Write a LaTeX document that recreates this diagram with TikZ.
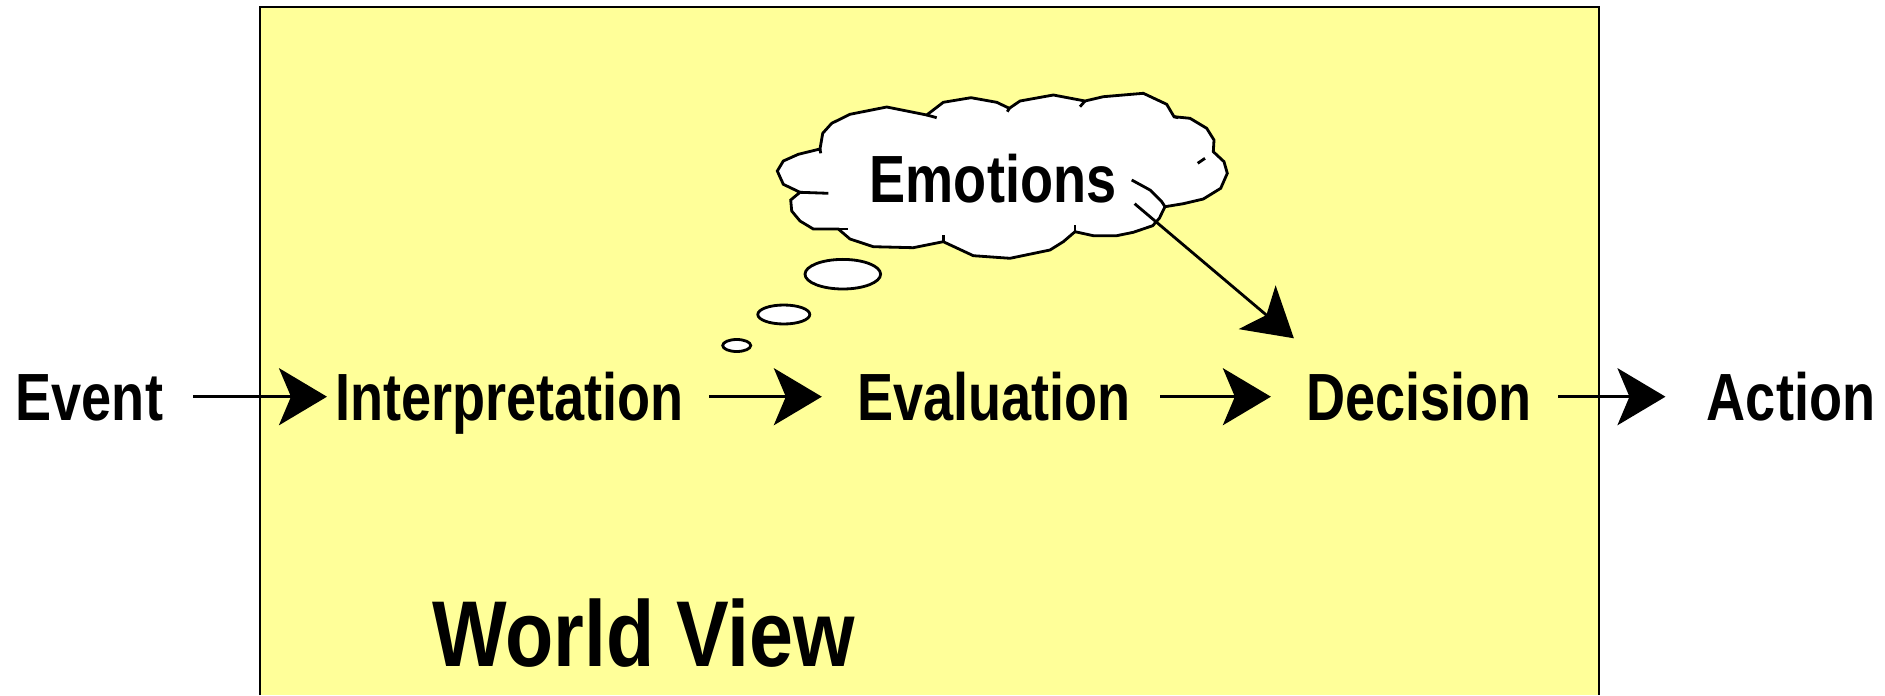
\documentclass[tikz,border=0pt]{standalone}
\usepackage{fontspec}
\usepackage{tikz}
\usetikzlibrary{arrows.meta}
\newfontfamily\labelfont{Liberation Sans}[FakeStretch=0.81]
\newfontfamily\titlefont{Liberation Sans}[FakeStretch=0.845]
\definecolor{worldyellow}{RGB}{255,255,153}
\newcommand{\drawbubble}[4]{   % x, y, radiusx, radiusy
	\draw[fill=white] (#1, #2) ellipse ({#3} and {#4});
}
\newcommand{\drawtick}[4]{   % x1, y1, x2, y2
	\draw (#1, #2) -- (#3, #4);
}
\tikzset{
	word/.style={font=\labelfont\bfseries\fontsize{19}{23}\selectfont, inner sep=0pt, text height=0.48cm, text depth=0pt, anchor=base},
	flow/.style={-{Stealth[length=0.48cm, width=0.57cm, inset=0.12cm]}},
}

\begin{document}
\begin{tikzpicture}[line width=0.8pt]
\useasboundingbox (0, 0) rectangle (18.85, 6.95);

% world view box, open at the bottom
\fill[worldyellow] (2.60, 0) rectangle (15.99, 6.88);
\draw (2.60, 0) -- (2.60, 6.88) -- (15.99, 6.88) -- (15.99, 0);

% thought cloud
\draw[fill=white] (7.773, 5.24) -- (7.833, 5.34) -- (7.983, 5.407) -- (8.20, 5.46)
	-- (8.227, 5.617) -- (8.317, 5.717) -- (8.50, 5.807) -- (8.867, 5.88) -- (9.267, 5.80)
	-- (9.433, 5.927) -- (9.71, 5.973) -- (9.967, 5.927) -- (10.093, 5.867)
	-- (10.20, 5.94) -- (10.533, 6.00) -- (10.85, 5.94)
	-- (11.033, 5.983) -- (11.433, 6.017) -- (11.667, 5.907) -- (11.74, 5.783)
	-- (11.90, 5.767) -- (12.067, 5.667) -- (12.14, 5.55) -- (12.133, 5.433)
	-- (12.24, 5.333) -- (12.273, 5.217) -- (12.207, 5.067) -- (12.033, 4.96) -- (11.833, 4.913) -- (11.65, 4.883)
	-- (11.593, 4.767) -- (11.527, 4.693) -- (11.333, 4.627) -- (11.167, 4.593) -- (10.933, 4.593) -- (10.75, 4.633)
	-- (10.633, 4.533) -- (10.50, 4.45) -- (10.10, 4.367) -- (9.733, 4.393) -- (9.433, 4.533)
	-- (9.133, 4.473) -- (8.733, 4.483) -- (8.50, 4.56) -- (8.383, 4.66)
	-- (8.133, 4.66) -- (8.00, 4.74) -- (7.917, 4.84) -- (7.907, 4.95) -- (8.00, 5.027)
	-- (7.833, 5.107) -- cycle;
\drawtick{8.20}{5.46}{8.207}{5.417}
\drawtick{9.267}{5.80}{9.367}{5.773}
\drawtick{10.093}{5.867}{10.073}{5.833}
\drawtick{10.85}{5.94}{10.80}{5.883}
\drawtick{11.74}{5.783}{11.78}{5.773}
\drawtick{12.05}{5.367}{11.977}{5.317}
\drawtick{10.75}{4.633}{10.75}{4.70}
\drawtick{9.433}{4.533}{9.433}{4.60}
\drawtick{8.383}{4.66}{8.483}{4.66}
\drawtick{8.00}{5.027}{8.283}{5.017}
\draw (11.317, 5.15) -- (11.50, 5.05) -- (11.617, 4.933) -- (11.65, 4.883);

\drawbubble{8.428}{4.208}{0.378}{0.148}
\drawbubble{7.838}{3.805}{0.26}{0.095}
\drawbubble{7.367}{3.495}{0.14}{0.06}

% labels
\node[word] (event) at (0.894, 2.743) {Event};
\node[word] (interp) at (5.097, 2.743) {Interpretation};
\node[word] (eval) at (9.94, 2.743) {Evaluation};
\node[word] (dec) at (14.19, 2.743) {Decision};
\node[word] (act) at (17.91, 2.743) {Action};
\node[word] (emo) at (9.93, 4.927) {Emotions};
\node[word, font=\titlefont\bfseries\fontsize{26.6}{32}\selectfont] (world) at (6.435, 0.29) {World View};

% arrows
\draw[flow, shorten <=0.29cm, shorten >=0.07cm] (event.east) -- (interp.west);
\draw[flow, shorten <=0.24cm, shorten >=0.34cm] (interp.east) -- (eval.west);
\draw[flow, shorten <=0.28cm, shorten >=0.34cm] (eval.east) -- (dec.west);
\draw[flow, shorten <=0.25cm, shorten >=0.40cm] (dec.east) -- (act.west);
\draw[flow] ([xshift=1.7mm]emo.south east) -- ([shift={(-1.1mm,3.3mm)}]dec.north west);
\end{tikzpicture}
\end{document}
